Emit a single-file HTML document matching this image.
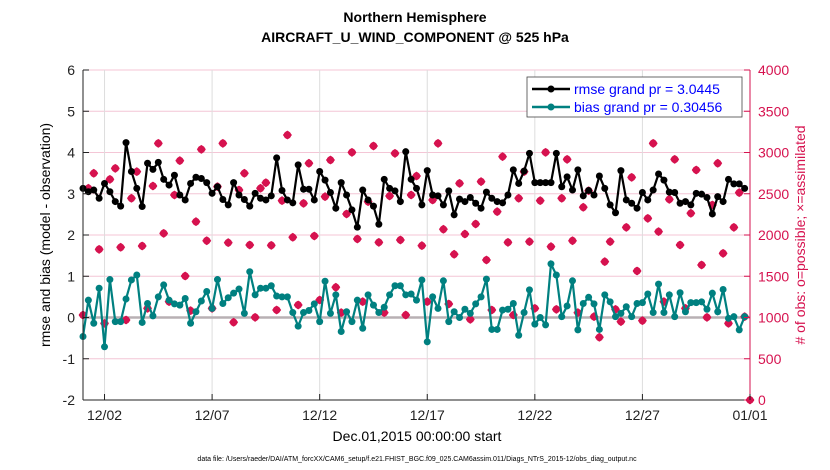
<!DOCTYPE html>
<html><head><meta charset="utf-8">
<style>
body{margin:0;background:#fff;font-family:"Liberation Sans",sans-serif;}
svg{display:block}
</style></head>
<body>
<svg id="chart" width="830" height="470" xmlns="http://www.w3.org/2000/svg" font-family="Liberation Sans, sans-serif">
<text x="415" y="22" text-anchor="middle" font-size="14" font-weight="bold">Northern Hemisphere</text>
<text x="415" y="42" text-anchor="middle" font-size="14" font-weight="bold">AIRCRAFT_U_WIND_COMPONENT @ 525 hPa</text>
<g id="grid"></g>
<g id="marks"></g>
<g id="axes"></g>
<text transform="translate(50,235) rotate(-90)" text-anchor="middle" font-size="14">rmse and bias (model - observation)</text>
<text transform="translate(805,235) rotate(-90)" text-anchor="middle" font-size="14" fill="#d6124f">#  of obs: o=possible; ×=assimilated</text>
<text x="417" y="441" text-anchor="middle" font-size="14">Dec.01,2015 00:00:00 start</text>
<text x="417" y="461" text-anchor="middle" font-size="7">data file: /Users/raeder/DAI/ATM_forcXX/CAM6_setup/f.e21.FHIST_BGC.f09_025.CAM6assim.011/Diags_NTrS_2015-12/obs_diag_output.nc</text>
<g>
<rect x="527" y="77" width="215" height="40" fill="#fff" stroke="#444" stroke-width="0.8"/>
<line x1="532" y1="89" x2="570" y2="89" stroke="#000" stroke-width="2.5"/>
<circle cx="551" cy="89" r="3.5" fill="#000"/>
<text x="574" y="94" font-size="14" fill="#0000ff">rmse grand pr = 3.0445</text>
<line x1="532" y1="107" x2="570" y2="107" stroke="#008080" stroke-width="2.5"/>
<circle cx="551" cy="107" r="3.5" fill="#008080"/>
<text x="574" y="112" font-size="14" fill="#0000ff">bias grand pr = 0.30456</text>
</g>
</svg>
<script>
const rmse=[3.13,3.05,3.09,2.89,3.25,3.05,2.81,2.70,4.24,3.54,3.13,2.69,3.74,3.59,3.76,3.35,3.21,3.45,2.97,2.85,3.25,3.40,3.37,3.27,3.01,3.17,2.86,2.73,3.27,2.97,2.86,2.70,3.01,2.89,2.85,2.95,3.87,3.08,2.85,2.78,3.70,3.11,3.11,2.85,3.54,3.33,3.03,2.65,3.27,2.97,2.61,2.19,3.09,2.85,2.70,2.26,3.35,3.13,3.07,2.81,4.02,3.35,3.13,2.73,3.56,2.97,2.95,2.73,3.07,2.49,2.87,2.81,2.91,2.77,2.65,3.04,2.89,2.81,2.78,2.97,3.58,3.25,3.55,3.98,3.27,3.27,3.27,3.27,3.98,3.17,3.41,3.09,3.58,2.95,3.08,2.97,3.43,3.13,2.73,2.54,3.56,2.85,2.77,2.65,3.03,2.85,3.09,3.48,3.33,3.04,3.03,2.77,2.81,2.73,3.01,2.99,2.91,2.51,2.93,2.81,3.35,3.24,3.24,3.13];
const bias=[-0.46,0.42,-0.14,0.71,-0.71,0.92,-0.10,-0.10,0.45,0.91,1.03,-0.12,0.34,0.04,0.50,0.79,0.42,0.33,0.30,0.46,-0.14,0.14,0.40,0.63,0.22,0.92,0.34,0.48,0.59,0.69,0.10,1.11,0.55,0.71,0.71,0.77,0.52,0.50,0.50,0.12,-0.21,0.12,0.17,0.33,-0.10,0.88,0.10,0.55,-0.34,0.14,-0.10,0.42,-0.26,0.55,0.30,0.12,0.25,0.55,0.77,0.77,0.55,0.57,0.42,0.91,-0.59,0.50,0.22,0.89,-0.10,0.14,0.00,0.20,0.10,0.33,0.50,0.93,-0.29,-0.29,0.18,0.20,0.34,-0.43,0.12,0.67,-0.16,0.00,-0.18,1.30,1.03,0.02,0.28,0.89,-0.30,0.34,0.49,0.33,-0.29,0.55,0.38,0.02,0.10,0.26,0.02,0.34,0.36,0.57,0.12,0.81,0.12,0.55,0.02,0.60,0.14,0.36,0.36,0.38,0.20,0.59,0.14,0.68,-0.02,0.02,-0.30,0.02];
const nobs=[1030,2566,2748,1826,929,2675,2808,1851,970,2445,2768,1867,1111,2594,3111,2020,1192,2485,2901,1503,1083,2162,3038,1931,1111,2586,3111,1907,942,2546,2748,1879,1002,2566,2634,1875,1091,2416,3212,1972,1152,2384,2869,1988,1212,2465,2909,1366,1059,2255,3002,1952,1192,2404,3079,1911,1059,2473,2990,1940,1030,2485,2715,1871,1192,2424,3111,2069,1164,1766,2626,2012,978,2134,2647,1697,1091,2283,2950,1911,1030,2445,2768,1919,1111,2416,3002,1859,1099,2445,2917,1931,1059,2336,2537,1010,760,1677,1919,1099,950,2093,2699,1564,962,2202,3111,2041,1192,2432,2917,1879,1111,2263,2788,1637,1002,2364,2869,1778,929,2093,2513,1010,0];
const xTickLabels=["12/02","12/07","12/12","12/17","12/22","12/27","01/01"];
const xTickDays=[1,6,11,16,21,26,31];
const yTicks=[-2,-1,0,1,2,3,4,5,6];
const y2Ticks=[0,500,1000,1500,2000,2500,3000,3500,4000];

const X0=83,X1=750,Y0=70,Y1=400;
const xs=d=>X0+(d/31)*(X1-X0);
const ys=v=>Y1-(v+2)/8*(Y1-Y0);
const y2s=v=>Y1-v/4000*(Y1-Y0);
const NS="http://www.w3.org/2000/svg";
function mk(tag,attrs,parent){const e=document.createElementNS(NS,tag);for(const k in attrs)e.setAttribute(k,attrs[k]);parent.appendChild(e);return e;}
const grid=document.getElementById('grid'),marks=document.getElementById('marks'),axes=document.getElementById('axes');

y2Ticks.forEach(v=>{const l=mk('line',{x1:X0,x2:X1,y1:y2s(v),y2:y2s(v),stroke:'#f4c6d6','stroke-width':1},grid);

});
xTickDays.forEach(d=>{const l=mk('line',{x1:xs(d),x2:xs(d),y1:Y0,y2:Y1,stroke:'#dddddd','stroke-width':1},grid);

});
const zl=mk('line',{x1:X0,x2:X1,y1:ys(0),y2:ys(0),stroke:'#b8b0b4','stroke-width':2.5},grid);



// obs markers
nobs.forEach((v,i)=>{const cx=xs(i*0.25),cy=y2s(v);
const g=mk('g',{},marks);


mk('circle',{cx:cx,cy:cy,r:3.2,fill:'none',stroke:'#d6124f','stroke-width':1.2},g);
mk('path',{d:`M${cx-4.5},${cy}L${cx},${cy-4.5}L${cx+4.5},${cy}L${cx},${cy+4.5}Z`,fill:'#d6124f'},g);
mk('path',{d:`M${cx-4},${cy}H${cx+4}M${cx},${cy-4}V${cy+4}`,stroke:'#d6124f','stroke-width':2},g);});

function series(arr,color,name){
const p=mk('polyline',{points:arr.map((v,i)=>xs(i*0.25)+','+ys(v)).join(' '),fill:'none',stroke:color,'stroke-width':2.2},marks);


arr.forEach((v,i)=>{const c=mk('circle',{cx:xs(i*0.25),cy:ys(v),r:3.5,fill:color},marks);

});}
series(bias,'#008080','bias');
series(rmse,'#000000','rmse');

// axes frame
mk('line',{x1:X0,x2:X0,y1:Y0,y2:Y1,stroke:'#222','stroke-width':1},axes);
mk('line',{x1:X0,x2:X1,y1:Y1,y2:Y1,stroke:'#222','stroke-width':1},axes);
mk('line',{x1:X1,x2:X1,y1:Y0,y2:Y1,stroke:'#d6124f','stroke-width':1},axes);
yTicks.forEach(v=>{mk('line',{x1:X0,x2:X0+6,y1:ys(v),y2:ys(v),stroke:'#222'},axes);
const t=mk('text',{x:X0-8,y:ys(v)+5,'text-anchor':'end','font-size':14,fill:'#222'},axes);t.textContent=v;

});
y2Ticks.forEach(v=>{mk('line',{x1:X1-6,x2:X1,y1:y2s(v),y2:y2s(v),stroke:'#d6124f'},axes);
const t=mk('text',{x:X1+8,y:y2s(v)+5,'font-size':14,fill:'#d6124f'},axes);t.textContent=v;

});
xTickDays.forEach((d,i)=>{mk('line',{x1:xs(d),x2:xs(d),y1:Y1,y2:Y1-6,stroke:'#222'},axes);
const t=mk('text',{x:xs(d),y:Y1+20,'text-anchor':'middle','font-size':14,fill:'#222'},axes);t.textContent=xTickLabels[i];

});
</script>
</body></html>
